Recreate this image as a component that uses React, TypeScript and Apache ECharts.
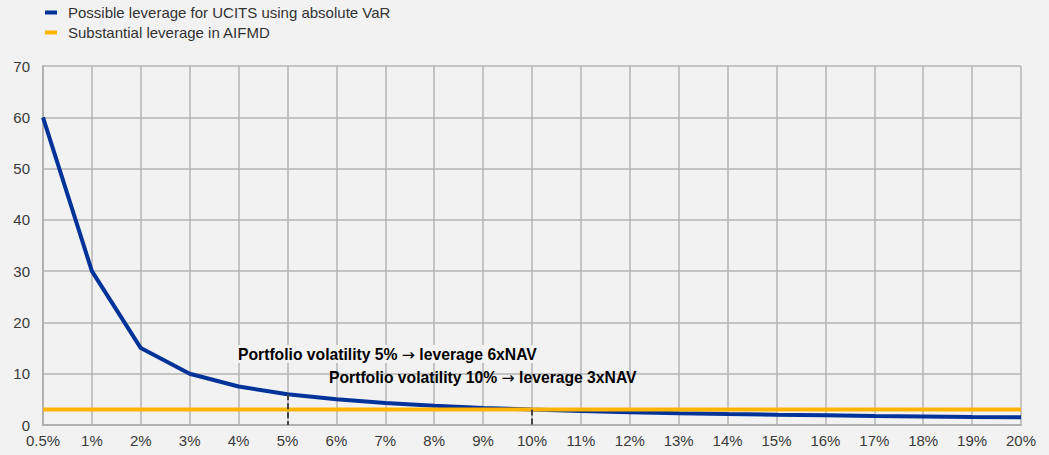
import React, { useEffect, useRef } from "react";
import * as echarts from "echarts";

const categories = ["0.5%", "1%", "2%", "3%", "4%", "5%", "6%", "7%", "8%", "9%", "10%", "11%", "12%", "13%", "14%", "15%", "16%", "17%", "18%", "19%", "20%"];
const ucitsLeverage = [60, 30, 15, 10, 7.5, 6, 5, 4.29, 3.75, 3.33, 3, 2.73, 2.5, 2.31, 2.14, 2, 1.88, 1.76, 1.67, 1.58, 1.5];
const aifmdLeverage = [3, 3, 3, 3, 3, 3, 3, 3, 3, 3, 3, 3, 3, 3, 3, 3, 3, 3, 3, 3, 3];
const seriesNames = ["Possible leverage for UCITS using absolute VaR", "Substantial leverage in AIFMD"];
const annotationParts = [
  ["Portfolio volatility 5% ", "→", " leverage 6xNAV"],
  ["Portfolio volatility 10% ", "→", " leverage 3xNAV"],
];

export default function App() {
  const ref = useRef<HTMLDivElement>(null);
  useEffect(() => {
    const chart = echarts.init(ref.current!, null, { renderer: "svg" });
    const font = "Liberation Sans, Arial, sans-serif";
    const richText = {
      b: { fontFamily: font, fontWeight: "bold", fontSize: 15.7, color: "#1a1a1a", lineHeight: 18 },
      a: { fontFamily: "DejaVu Sans", fontWeight: "normal", fontSize: 15.7, color: "#1a1a1a", lineHeight: 18 },
    };
    const mk = (p: string[]) => `{b|${p[0]}}{a|${p[1]}}{b|${p[2]}}`;
    chart.setOption({
      animation: false,
      backgroundColor: "#f2f2f2",
      textStyle: { fontFamily: font },
      legend: {
        orient: "vertical",
        left: 45,
        top: 5,
        padding: 0,
        itemWidth: 12,
        itemHeight: 4,
        itemGap: 5,
        icon: "rect",
        textStyle: { fontSize: 15, color: "#333", fontFamily: font, padding: [0, 0, 0, 6] },
        data: seriesNames,
      },
      grid: { left: 43, right: 28, top: 66, bottom: 30, containLabel: false },
      xAxis: {
        type: "category",
        data: categories,
        boundaryGap: false,
        axisLine: { lineStyle: { color: "#b0b0b0", width: 2 } },
        axisTick: { show: false },
        axisLabel: { color: "#3a3a3a", fontSize: 15, margin: 8, fontFamily: font },
        splitLine: { show: true, lineStyle: { color: "#b4b4b4", width: 1.5 } },
      },
      yAxis: {
        type: "value",
        min: 0,
        max: 70,
        interval: 10,
        axisLine: { show: true, lineStyle: { color: "#b0b0b0", width: 2 } },
        axisTick: { show: false },
        axisLabel: { color: "#3a3a3a", fontSize: 15, margin: 13, fontFamily: font },
        splitLine: { show: true, lineStyle: { color: "#b4b4b4", width: 1.5 } },
      },
      series: [
        {
          name: seriesNames[0],
          type: "line",
          data: ucitsLeverage,
          symbol: "none",
          lineStyle: { color: "#003399", width: 4 },
          itemStyle: { color: "#003399" },
          z: 2,
          markLine: {
            silent: true,
            symbol: "none",
            label: { show: false },
            lineStyle: { color: "#444", type: [6, 3], width: 2 },
            data: [
              [{ coord: ["5%", ucitsLeverage[5]] }, { coord: ["5%", 0] }],
              [{ coord: ["10%", ucitsLeverage[10]] }, { coord: ["10%", 0] }],
            ],
          },
        },
        {
          name: seriesNames[1],
          type: "line",
          data: aifmdLeverage,
          symbol: "none",
          lineStyle: { color: "#ffb400", width: 4 },
          itemStyle: { color: "#ffb400" },
          z: 3,
        },
      ],
      graphic: [
        {
          type: "text",
          left: 238,
          top: 345,
          z: 10,
          style: {
            text: mk(annotationParts[0]),
            rich: richText,
            backgroundColor: "#f2f2f2",
          },
        },
        {
          type: "text",
          left: 329,
          top: 369,
          z: 10,
          style: {
            text: mk(annotationParts[1]),
            rich: richText,
          },
        },
      ],
    });
    return () => chart.dispose();
  }, []);
  return <div ref={ref} style={{ position: "fixed", left: 0, top: 0, width: 1049, height: 455 }} />;
}
